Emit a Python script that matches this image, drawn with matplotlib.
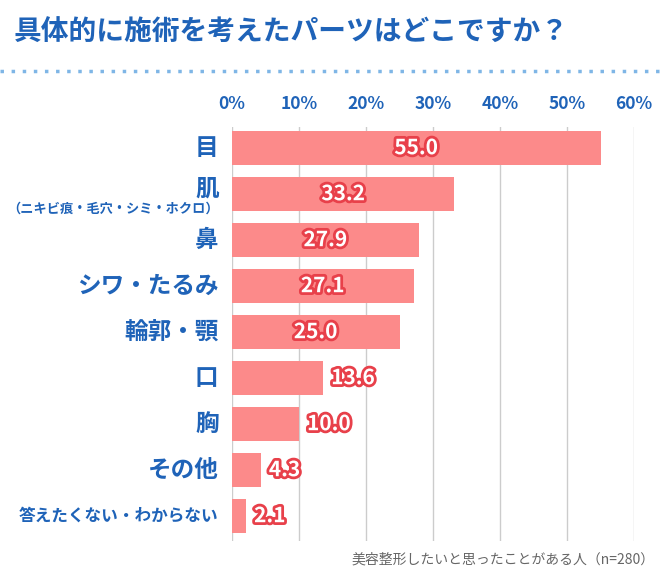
import matplotlib
matplotlib.use("Agg")
import matplotlib.pyplot as plt
import matplotlib.patheffects as pe

plt.rcParams['font.family'] = ['Noto Sans CJK JP', 'DejaVu Sans']

categories = ["目", "肌", "鼻", "シワ・たるみ", "輪郭・顎", "口", "胸", "その他", "答えたくない・わからない"]
values = [55.0, 33.2, 27.9, 27.1, 25.0, 13.6, 10.0, 4.3, 2.1]
xticks = [0, 10, 20, 30, 40, 50, 60]

blue = "#1f63b8"
bar_color = "#fc8a8a"
red = "#e8404a"

fig = plt.figure(figsize=(6.6, 5.7), dpi=100)
ax = fig.add_axes([232 / 660, 1 - 541 / 570, (634 - 232) / 660, (541 - 127) / 570])

ypos = list(range(len(values)))
ax.barh(ypos, values, height=0.74, color=bar_color, zorder=2)
ax.set_ylim(len(values) - 0.45, -0.45)
ax.set_xlim(0, 60)
ax.set_xticks(xticks)
ax.set_xticklabels([f"{t}%" for t in xticks], color=blue, fontsize=12.5, fontweight="bold")
ax.xaxis.tick_top()
ax.tick_params(axis="x", length=0, pad=10)
ax.set_yticks([])
for s in ax.spines.values():
    s.set_visible(False)
ax.grid(axis="x", color="#cccccc", linewidth=1, zorder=0)

stroke = [pe.withStroke(linewidth=4, foreground=red)]
for y, v in zip(ypos, values):
    if v >= 20:
        ax.text(v / 2, y, f"{v:.1f}", ha="center", va="center", color="white",
                fontsize=15, fontweight="bold", path_effects=stroke, zorder=3)
    else:
        ax.text(v + 1.2, y, f"{v:.1f}", ha="left", va="center", color="white",
                fontsize=15, fontweight="bold", path_effects=stroke, zorder=3)

for y, c in zip(ypos, categories):
    size = 17 if len(c) <= 6 else 12
    dy = -0.12 if c == "肌" else 0
    ax.text(-2, y + dy, c, ha="right", va="center", color=blue, fontsize=size,
            fontweight="bold", clip_on=False)
ax.text(-2, 1.32, "（ニキビ痕・毛穴・シミ・ホクロ）", ha="right", va="center", color=blue,
        fontsize=9.5, fontweight="bold", clip_on=False)

fig.text(14 / 660, 1 - 33 / 570, "具体的に施術を考えたパーツはどこですか？", ha="left", va="center",
         color=blue, fontsize=20, fontweight="bold")
fig.add_artist(plt.Line2D([0, 1], [1 - 71 / 570] * 2, color="#7fb6e6", linewidth=2.5,
                          linestyle=(0, (1, 2.2)), transform=fig.transFigure))
fig.text(655 / 660, 1 - 560 / 570, "美容整形したいと思ったことがある人（n=280）", ha="right", va="center",
         color="#666666", fontsize=10)

fig.savefig("out.png", dpi=100, facecolor="white")
